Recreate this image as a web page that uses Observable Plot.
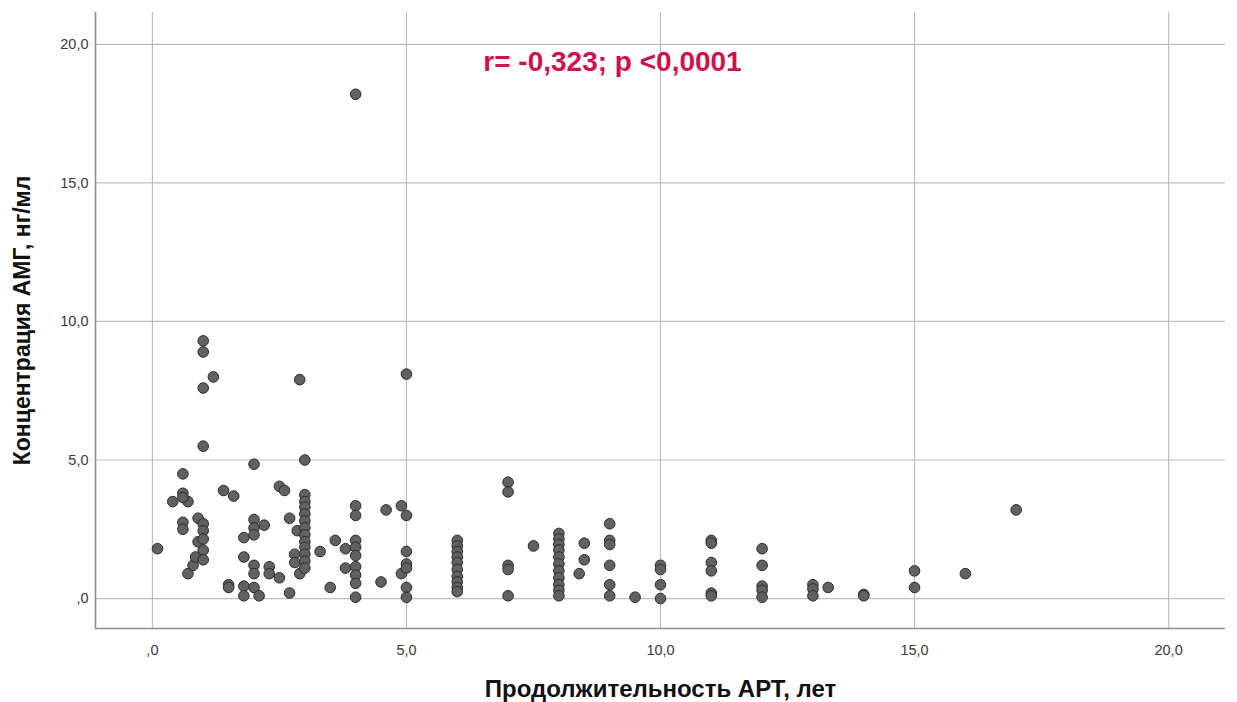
<!DOCTYPE html>
<html>
<head>
<meta charset="utf-8">
<script src="https://cdn.jsdelivr.net/npm/d3@7"></script>
<script src="https://cdn.jsdelivr.net/npm/@observablehq/plot@0.6"></script>
<style>
  html, body { margin: 0; padding: 0; background: #fff; }
  #chart { width: 1237px; height: 702px; }
  svg { font-family: "Liberation Sans", Arial, sans-serif; }
</style>
</head>
<body>
<div id="chart"></div>
<script>
// Продолжительность АРТ (лет) и концентрация АМГ (нг/мл), по пациентам
const artYears = [
  0.1, 0.4, 0.6, 0.6, 0.7, 0.6, 0.6, 0.6, 0.7, 0.8, 0.85, 0.9, 0.9,
  1.0, 1.0, 1.0, 1.0, 1.0, 1.0, 1.0, 1.0, 1.0, 1.2, 1.4, 1.5, 1.5, 1.6,
  1.8, 1.8, 1.8, 1.8, 2.0, 2.0, 2.0, 2.0, 2.0, 2.0, 2.0, 2.1, 2.2, 2.3, 2.3,
  2.5, 2.5, 2.6, 2.7, 2.7, 2.85, 2.8, 2.8, 2.9, 2.9,
  3.0, 3.0, 3.0, 3.0, 3.0, 3.0, 3.0, 3.0, 3.0, 3.0, 3.0, 3.0, 3.0,
  3.3, 3.6, 3.8, 3.8, 3.5,
  4.0, 4.0, 4.0, 4.0, 4.0, 4.0, 4.0, 4.0, 4.0, 4.0,
  4.5, 4.6, 4.9, 4.9, 5.0, 5.0, 5.0, 5.0, 5.0, 5.0, 5.0,
  6.0, 6.0, 6.0, 6.0, 6.0, 6.0, 6.0, 6.0, 6.0, 6.0,
  7.0, 7.0, 7.0, 7.0, 7.0, 7.5,
  8.0, 8.0, 8.0, 8.0, 8.0, 8.0, 8.0, 8.0, 8.0, 8.0, 8.0,
  8.4, 8.5, 8.5,
  9.0, 9.0, 9.0, 9.0, 9.0, 9.0, 9.5,
  10.0, 10.0, 10.0, 10.0,
  11.0, 11.0, 11.0, 11.0, 11.0, 11.0,
  12.0, 12.0, 12.0, 12.0, 12.0,
  13.0, 13.0, 13.0, 13.3, 14.0, 14.0,
  15.0, 15.0, 16.0, 17.0
];
const amhLevel = [
  1.8, 3.5, 4.5, 3.8, 3.5, 3.65, 2.75, 2.5, 0.9, 1.2, 1.5, 2.9, 2.05,
  9.3, 8.9, 7.6, 5.5, 2.7, 2.45, 2.15, 1.75, 1.4, 8.0, 3.9, 0.5, 0.4, 3.7,
  2.2, 1.5, 0.45, 0.1, 4.85, 2.85, 2.55, 2.3, 1.2, 0.9, 0.4, 0.1, 2.65, 1.15, 0.9,
  4.05, 0.75, 3.9, 2.9, 0.2, 2.45, 1.6, 1.3, 0.9, 7.9,
  5.0, 3.75, 3.5, 3.3, 3.05, 2.8, 2.55, 2.3, 2.05, 1.85, 1.6, 1.35, 1.1,
  1.7, 2.1, 1.8, 1.1, 0.4,
  18.2, 3.35, 3.0, 2.1, 1.85, 1.55, 1.15, 0.85, 0.55, 0.05,
  0.6, 3.2, 3.35, 0.9, 8.1, 3.0, 1.7, 1.25, 1.1, 0.4, 0.05,
  2.1, 1.9, 1.7, 1.5, 1.3, 1.05, 0.8, 0.6, 0.4, 0.25,
  4.2, 3.85, 1.2, 1.05, 0.1, 1.9,
  2.35, 2.15, 1.95, 1.75, 1.5, 1.25, 1.0, 0.75, 0.5, 0.3, 0.1,
  0.9, 2.0, 1.4,
  2.7, 2.1, 1.95, 1.2, 0.5, 0.1, 0.05,
  1.2, 1.05, 0.5, 0.0,
  2.1, 2.0, 1.3, 1.0, 0.2, 0.1,
  1.8, 1.2, 0.45, 0.3, 0.05,
  0.5, 0.35, 0.1, 0.4, 0.15, 0.1,
  1.0, 0.4, 0.9, 3.2
];
const tickValues = [0, 5, 10, 15, 20];
const xLabel = "Продолжительность АРТ, лет";
const yLabel = "Концентрация АМГ, нг/мл";
const corrLabel = "r= -0,323; p <0,0001";

const points = artYears.map((x, i) => ({x, y: amhLevel[i]}));

// SPSS-style decimal labels: ",0", "5,0", "10,0" ...
const fmt = d => d === 0 ? ",0" : d.toFixed(1).replace(".", ",");

const xDomain = [-1.12, 21.12];
const yDomain = [-1.08, 21.15];

const chart = Plot.plot({
  width: 1237,
  height: 702,
  marginLeft: 95,
  marginRight: 12,
  marginTop: 12,
  marginBottom: 74,
  style: {fontFamily: "'Liberation Sans', Arial, sans-serif", background: "#fff"},
  x: {domain: xDomain, ticks: tickValues, tickFormat: fmt},
  y: {domain: yDomain, ticks: tickValues, tickFormat: fmt},
  marks: [
    Plot.gridX(tickValues, {stroke: "#bdbdbd", strokeOpacity: 1, strokeWidth: 1.2}),
    Plot.gridY(tickValues, {stroke: "#bdbdbd", strokeOpacity: 1, strokeWidth: 1.2}),
    Plot.ruleX([xDomain[0]], {stroke: "#8c8c8c", strokeWidth: 1.6}),
    Plot.ruleY([yDomain[0]], {stroke: "#8c8c8c", strokeWidth: 1.6}),
    Plot.axisX({ticks: tickValues, tickFormat: fmt, tickSize: 0, tickPadding: 16,
      fontSize: 14.5, fill: "#3a3a3a", label: null}),
    Plot.axisY({ticks: tickValues, tickFormat: fmt, tickSize: 0, tickPadding: 7,
      fontSize: 14.5, fill: "#3a3a3a", label: null}),
    Plot.dot(points, {x: "x", y: "y", r: 5.3, fill: "#616161", stroke: "#2b2b2b",
      strokeWidth: 1, fillOpacity: 1}),
    Plot.text([corrLabel], {frameAnchor: "top", dx: -48, dy: 39, fontSize: 28,
      fontWeight: "bold", fill: "#d1104f", textAnchor: "middle"}),
    Plot.text([xLabel], {frameAnchor: "bottom", dy: 68, fontSize: 24,
      fontWeight: "bold", fill: "#111", textAnchor: "middle"}),
    Plot.text([yLabel], {frameAnchor: "left", dx: -73, dy: 0, rotate: -90, fontSize: 23,
      fontWeight: "bold", fill: "#111", textAnchor: "middle"})
  ]
});

document.getElementById("chart").appendChild(chart);
</script>
</body>
</html>
